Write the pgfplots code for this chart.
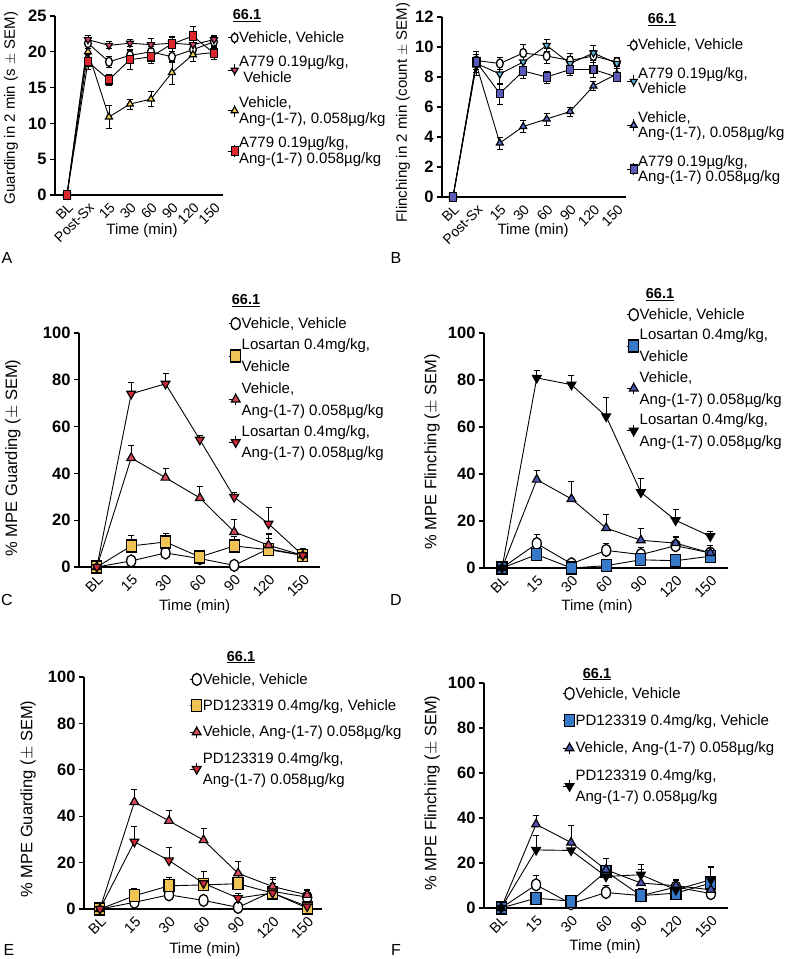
\documentclass[border=0pt]{standalone}
\usepackage{fontspec}
\setmainfont{Liberation Sans}
\usepackage{pgfplots}
\pgfplotsset{compat=1.18}

\definecolor{aPink}{RGB}{215,70,100}
\definecolor{aYel}{RGB}{242,212,90}
\definecolor{aRed}{RGB}{220,40,45}
\definecolor{bCyan}{RGB}{100,190,230}
\definecolor{bBlue}{RGB}{95,110,200}
\definecolor{bSlate}{RGB}{90,90,185}
\definecolor{cYel}{RGB}{240,195,85}
\definecolor{cPink}{RGB}{215,75,95}
\definecolor{cRed}{RGB}{210,40,60}
\definecolor{dBlue}{RGB}{55,120,200}
\definecolor{dPurp}{RGB}{75,85,175}

\pgfplotsset{
  panel/.style={
    scale only axis, clip=false,
    axis lines*=left, axis line style={line width=1.6pt,-},
    ymin=0,
    tick align=outside, major tick length=5pt,
    ytick style={line width=1.2pt, black},
    xtick style={draw=none},
    xticklabel style={rotate=45, anchor=north east, font=\fontsize{14.5}{14.5}\selectfont, inner sep=1pt},
    yticklabel style={font=\fontsize{16.5}{16.5}\selectfont\bfseries},
    /pgf/number format/assume math mode=true,
    xlabel style={font=\fontsize{15}{17}\selectfont},
    ylabel style={font=\fontsize{16.5}{18}\selectfont},
    xlabel={Time (min)},
    every axis plot/.append style={black, line width=0.9pt, mark size=5pt},
    error bars/y explicit,
    error bars/error bar style={line width=0.9pt, black},
    error bars/error mark options={rotate=90, mark size=3pt, line width=0.9pt, black},
    legend style={draw=none, fill=none,
      anchor=north west, nodes={align=left, inner sep=1pt, font=\fontsize{15}{19}\selectfont}, row sep=5pt},
    legend cell align=left,
    legend image code/.code={
      \draw[mark=none,line width=0.9pt] (0pt,0pt)--(4pt,0pt);
      \draw[mark=none,line width=0.9pt] (7pt,-6pt)--(7pt,6pt);
      \draw plot coordinates {(7pt,0pt)};
    },
  },
  vv/.style={mark=*, mark options={fill=white, draw=black, xscale=0.75, line width=1.3pt}},
  up/.style={mark=triangle*, mark options={fill=#1, draw=black, line width=1.2pt}},
  dn/.style={mark=triangle*, mark options={fill=#1, draw=black, rotate=180, line width=1.2pt}},
  sq/.style={mark=square*, mark options={fill=#1, draw=black, yscale=1.2, line width=1.2pt}},
}

\newcommand{\ttl}{\fontsize{14.5}{14.5}\selectfont\bfseries\underline{66.1}}
\newcommand{\plet}{\fontsize{16}{16}\selectfont}

\begin{document}
\begin{tikzpicture}
\path[use as bounding box] (0,0) rectangle (788pt,-959pt);

% ---------------- A ----------------
\begin{axis}[panel, at={(55pt,-195pt)}, anchor=south west,
  width=168pt, height=179pt,
  xmin=-0.57, xmax=7.43, ymax=25,
  xtick={0,...,7}, xticklabels={BL,Post-Sx,15,30,60,90,120,150},
  xticklabel style={font=\fontsize{14}{14}\selectfont},
  ytick={0,5,...,25},
  error bars/y dir=both,
  ylabel={Guarding in 2 min (s $\pm$ SEM)},
  ylabel style={at={(axis description cs:-0.262,0.486)}, anchor=center, font=\fontsize{15}{17}\selectfont},
  xlabel style={at={(axis description cs:0.518,-0.2)}, anchor=center},
  legend style={at={(axis description cs:1.006,0.93)}, row sep=10pt,
    nodes={font=\fontsize{15}{16}\selectfont}}]
\addplot[vv, mark size=4.5pt] coordinates {(0,0) (1,21.2) +- (0,0.8) (2,18.6) +- (0,0.8) (3,19.5) +- (0,0.8) (4,20.0) +- (0,0.8) (5,19.3) +- (0,0.8) (6,20.3) +- (0,0.9) (7,21.4) +- (0,0.7)};
\addlegendentry{Vehicle, Vehicle}
\addplot[dn=aPink, mark size=4pt] coordinates {(0,0) (1,21.7) +- (0,0.6) (2,20.9) +- (0,0.5) (3,21.2) +- (0,0.5) (4,21.0) +- (0,0.8) (5,21.2) +- (0,0.8) (6,21.0) +- (0,0.8) (7,21.7) +- (0,0.6)};
\addlegendentry{A779 0.19µg/kg,\\ \ Vehicle}
\addplot[up=aYel, mark size=4pt] coordinates {(0,0) (1,20.0) +- (0,0.8) (2,10.9) +- (0,1.6) (3,12.7) +- (0,0.7) (4,13.4) +- (0,1.0) (5,17.1) +- (0,1.6) (6,19.6) +- (0,1.0) (7,19.9) +- (0,1.0)};
\addlegendentry{Vehicle,\\Ang-(1-7), 0.058µg/kg}
\addplot[sq=aRed, mark size=3.5pt] coordinates {(0,0) (1,18.6) +- (0,1.0) (2,16.1) +- (0,0.8) (3,18.9) +- (0,1.3) (4,19.3) +- (0,0.9) (5,21.1) +- (0,1.0) (6,22.2) +- (0,1.3) (7,19.8) +- (0,0.8)};
\addlegendentry{A779 0.19µg/kg,\\Ang-(1-7) 0.058µg/kg}
\end{axis}

% ---------------- B ----------------
\begin{axis}[panel, at={(442pt,-197pt)}, anchor=south west,
  width=184pt, height=180pt,
  xmin=-0.47, xmax=7.39, ymax=12,
  xtick={0,...,7}, xticklabels={BL,Post-Sx,15,30,60,90,120,150},
  xticklabel style={font=\fontsize{14}{14}\selectfont},
  ytick={0,2,...,12},
  error bars/y dir=both,
  ylabel={Flinching in 2 min (count $\pm$ SEM)},
  ylabel style={at={(axis description cs:-0.212,0.47)}, anchor=center, font=\fontsize{15}{17}\selectfont},
  xlabel style={at={(axis description cs:0.495,-0.187)}, anchor=center},
  legend style={at={(axis description cs:0.984,0.895)}, row sep=14pt,
    nodes={font=\fontsize{15}{15.5}\selectfont}}]
\addplot[vv, mark size=4.5pt] coordinates {(0,0) (1,9.1) +- (0,0.6) (2,8.9) +- (0,0.4) (3,9.6) +- (0,0.6) (4,9.4) +- (0,0.5) (5,9.1) +- (0,0.5) (6,9.4) +- (0,0.4) (7,9.0) +- (0,0.3)};
\addlegendentry{Vehicle, Vehicle}
\addplot[dn=bCyan, mark size=4pt] coordinates {(0,0) (1,8.9) +- (0,0.6) (2,8.2) +- (0,0.7) (3,9.0) +- (0,0.7) (4,10.1) +- (0,0.4) (5,8.9) +- (0,0.5) (6,9.6) +- (0,0.5) (7,8.9) +- (0,0.3)};
\addlegendentry{A779 0.19µg/kg,\\Vehicle}
\addplot[up=bBlue, mark size=4pt] coordinates {(0,0) (1,8.8) +- (0,0.7) (2,3.6) +- (0,0.4) (3,4.7) +- (0,0.4) (4,5.2) +- (0,0.4) (5,5.7) +- (0,0.3) (6,7.4) +- (0,0.3) (7,8.2) +- (0,0.4)};
\addlegendentry{Vehicle,\\Ang-(1-7), 0.058µg/kg}
\addplot[sq=bSlate, mark size=3.5pt] coordinates {(0,0) (1,9.0) +- (0,0.7) (2,6.9) +- (0,0.7) (3,8.4) +- (0,0.5) (4,8.0) +- (0,0.4) (5,8.5) +- (0,0.4) (6,8.5) +- (0,0.5) (7,8.0) +- (0,0.3)};
\addlegendentry{A779 0.19µg/kg,\\Ang-(1-7) 0.058µg/kg}
\end{axis}

% ---------------- C ----------------
\begin{axis}[panel, at={(79pt,-567pt)}, anchor=south west,
  width=241pt, height=234pt,
  xmin=-0.52, xmax=6.5, ymax=100,
  xtick={0,...,6}, xticklabels={BL,15,30,60,90,120,150},
  ytick={0,20,...,100},
  error bars/y dir=plus,
  ylabel={\% MPE Guarding ($\pm$ SEM)},
  ylabel style={at={(axis description cs:-0.274,0.466)}, anchor=center},
  xlabel style={at={(axis description cs:0.48,-0.171)}, anchor=center},
  legend style={at={(axis description cs:0.606,1.08)}, row sep=7pt}]
\addplot[vv, mark size=6pt] coordinates {(0,0) (1,2.6) +- (0,1.5) (2,6.0) +- (0,4) (3,3.6) +- (0,2.5) (4,0.7) +- (0,1) (5,7.8) +- (0,6) (6,5.0) +- (0,3)};
\addlegendentry{Vehicle, Vehicle}
\addplot[sq=cYel] coordinates {(0,0) (1,9.0) +- (0,4.5) (2,10.7) +- (0,3.5) (3,4.3) +- (0,2.5) (4,9.0) +- (0,4) (5,7.4) +- (0,5) (6,5.0) +- (0,2)};
\addlegendentry{Losartan 0.4mg/kg,\\[3pt]Vehicle}
\addplot[up=cPink] coordinates {(0,0) (1,46.6) +- (0,5.5) (2,38.2) +- (0,4) (3,29.5) +- (0,5) (4,15.0) +- (0,5.5) (5,9.3) +- (0,5) (6,5.0) +- (0,2)};
\addlegendentry{Vehicle,\\[3pt]Ang-(1-7) 0.058µg/kg}
\addplot[dn=cRed] coordinates {(0,0) (1,74) +- (0,5) (2,78.3) +- (0,4.5) (3,54.4) +- (0,2) (4,29.9) +- (0,2) (5,18.5) +- (0,7) (6,5.0) +- (0,2)};
\addlegendentry{Losartan 0.4mg/kg,\\[2pt]Ang-(1-7) 0.058µg/kg}
\end{axis}

% ---------------- D ----------------
\begin{axis}[panel, at={(484pt,-568pt)}, anchor=south west,
  width=244pt, height=235pt,
  xmin=-0.52, xmax=6.51, ymax=100,
  xtick={0,...,6}, xticklabels={BL,15,30,60,90,120,150},
  ytick={0,20,...,100},
  error bars/y dir=plus,
  ylabel={\% MPE Flinching ($\pm$ SEM)},
  ylabel style={at={(axis description cs:-0.213,0.494)}, anchor=center},
  xlabel style={at={(axis description cs:0.463,-0.166)}, anchor=center},
  legend style={at={(axis description cs:0.570,1.118)}, row sep=6pt}]
\addplot[vv, mark size=6pt] coordinates {(0,0) (1,10.4) +- (0,4) (2,1.8) +- (0,1.5) (3,7.5) +- (0,3) (4,5.7) +- (0,3) (5,9.5) +- (0,3.5) (6,6.4) +- (0,3)};
\addlegendentry{Vehicle, Vehicle}
\addplot[sq=dBlue] coordinates {(0,0) (1,5.7) +- (0,2) (2,0) +- (0,1) (3,1.0) +- (0,1) (4,3.5) +- (0,2) (5,3.1) +- (0,2) (6,5.0) +- (0,2)};
\addlegendentry{Losartan 0.4mg/kg,\\[3pt]Vehicle}
\addplot[up=dPurp] coordinates {(0,0) (1,37.6) +- (0,4) (2,29.4) +- (0,7.5) (3,17.0) +- (0,6) (4,11.8) +- (0,5) (5,10.6) +- (0,3) (6,6.4) +- (0,2)};
\addlegendentry{Vehicle,\\[3pt]Ang-(1-7) 0.058µg/kg}
\addplot[dn=black] coordinates {(0,0) (1,80.9) +- (0,3) (2,78.0) +- (0,4) (3,64.5) +- (0,8) (4,32.2) +- (0,6) (5,20.3) +- (0,4.5) (6,13.5) +- (0,2)};
\addlegendentry{Losartan 0.4mg/kg,\\[3pt]Ang-(1-7) 0.058µg/kg}
\end{axis}

% ---------------- E ----------------
\begin{axis}[panel, at={(84pt,-909pt)}, anchor=south west,
  width=238pt, height=232pt,
  xmin=-0.46, xmax=6.43, ymax=100,
  xtick={0,...,6}, xticklabels={BL,15,30,60,90,120,150},
  ytick={0,20,...,100},
  error bars/y dir=plus,
  ylabel={\% MPE Guarding ($\pm$ SEM)},
  ylabel style={at={(axis description cs:-0.235,0.474)}, anchor=center},
  xlabel style={at={(axis description cs:0.508,-0.177)}, anchor=center},
  legend style={at={(axis description cs:0.429,1.03)}, row sep=12pt}]
\addplot[vv, mark size=6pt] coordinates {(0,0) (1,2.9) +- (0,2) (2,6.1) +- (0,3) (3,3.7) +- (0,2) (4,0.7) +- (0,1) (5,7.6) +- (0,5) (6,5.1) +- (0,3)};
\addlegendentry{Vehicle, Vehicle}
\addplot[sq=cYel] coordinates {(0,0) (1,5.7) +- (0,3) (2,10.0) +- (0,3.5) (3,10.4) +- (0,6) (4,10.9) +- (0,5) (5,6.9) +- (0,4) (6,0.4) +- (0,1)};
\addlegendentry{PD123319 0.4mg/kg, Vehicle}
\addplot[up=cPink] coordinates {(0,0) (1,46.1) +- (0,5.5) (2,38.0) +- (0,4.5) (3,29.7) +- (0,5) (4,15.4) +- (0,5) (5,9.7) +- (0,4) (6,6.1) +- (0,2.5)};
\addlegendentry{Vehicle, Ang-(1-7) 0.058µg/kg}
\addplot[dn=cRed] coordinates {(0,0) (1,29.0) +- (0,6.5) (2,20.9) +- (0,5.5) (3,11.1) +- (0,5) (4,4.7) +- (0,2) (5,6.9) +- (0,3) (6,1.1) +- (0,1)};
\addlegendentry{PD123319 0.4mg/kg,\\[2pt]Ang-(1-7) 0.058µg/kg}
\end{axis}

% ---------------- F ----------------
\begin{axis}[panel, at={(484pt,-908pt)}, anchor=south west,
  width=244pt, height=225pt,
  xmin=-0.49, xmax=6.49, ymax=100,
  xtick={0,...,6}, xticklabels={BL,15,30,60,90,120,150},
  ytick={0,20,...,100},
  error bars/y dir=plus,
  ylabel={\% MPE Flinching ($\pm$ SEM)},
  ylabel style={at={(axis description cs:-0.213,0.511)}, anchor=center},
  xlabel style={at={(axis description cs:0.496,-0.173)}, anchor=center},
  legend style={at={(axis description cs:0.307,0.995)}, row sep=13pt}]
\addplot[vv, mark size=6pt] coordinates {(0,0) (1,10.3) +- (0,4) (2,1.9) +- (0,1.5) (3,6.9) +- (0,3) (4,5.5) +- (0,3) (5,9.3) +- (0,3) (6,6.4) +- (0,3)};
\addlegendentry{Vehicle, Vehicle}
\addplot[sq=dBlue] coordinates {(0,0) (1,4.4) +- (0,2) (2,3.0) +- (0,1.5) (3,16.2) +- (0,6) (4,5.5) +- (0,3) (5,6.6) +- (0,3) (6,11.1) +- (0,7)};
\addlegendentry{PD123319 0.4mg/kg, Vehicle}
\addplot[up=dPurp] coordinates {(0,0) (1,37.2) +- (0,4) (2,29.1) +- (0,7.5) (3,17.0) +- (0,5) (4,11.1) +- (0,6) (5,9.9) +- (0,3) (6,8.1) +- (0,3)};
\addlegendentry{Vehicle, Ang-(1-7) 0.058µg/kg}
\addplot[dn=black] coordinates {(0,0) (1,25.8) +- (0,6.5) (2,25.6) +- (0,3) (3,14.0) +- (0,8) (4,14.8) +- (0,4.5) (5,8.1) +- (0,4) (6,12.6) +- (0,6)};
\addlegendentry{PD123319 0.4mg/kg,\\[2pt]Ang-(1-7) 0.058µg/kg}
\end{axis}

% titles and panel letters
\node at (247pt,-16pt) {\ttl};
\node at (662pt,-20pt) {\ttl};
\node at (246pt,-301pt) {\ttl};
\node at (660pt,-295pt) {\ttl};
\node at (241pt,-657pt) {\ttl};
\node at (597pt,-674pt) {\ttl};
\node at (7pt,-258pt) {\plet A};
\node at (396pt,-258pt) {\plet B};
\node at (7pt,-600pt) {\plet C};
\node at (396pt,-600pt) {\plet D};
\node at (9pt,-950pt) {\plet E};
\node at (396pt,-950pt) {\plet F};
\end{tikzpicture}
\end{document}
